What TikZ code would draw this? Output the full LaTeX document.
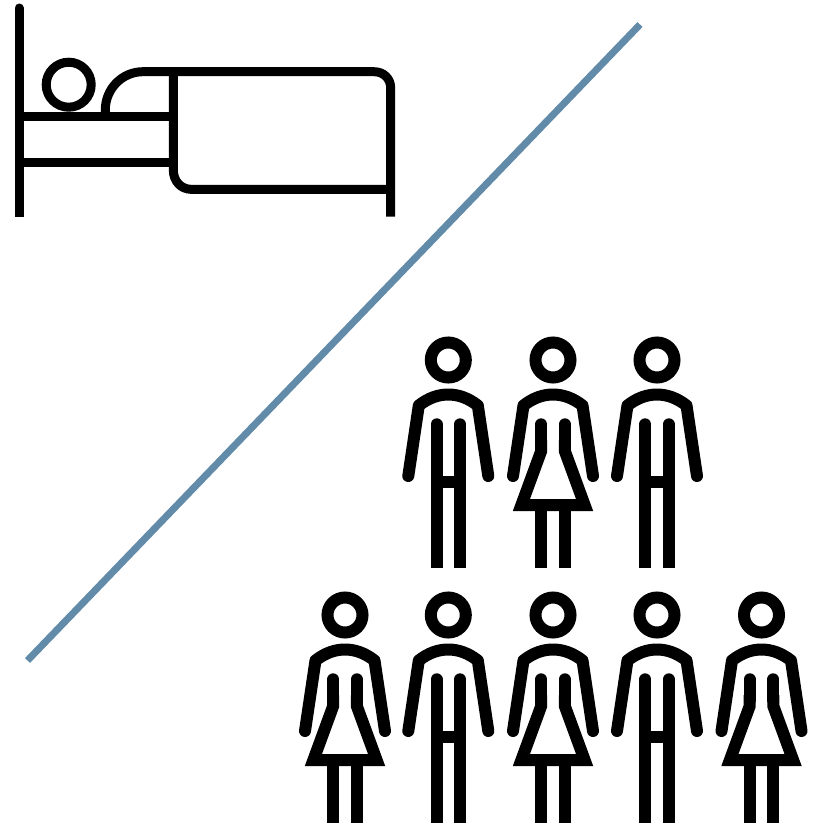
\documentclass[tikz,border=0pt]{standalone}
\usepackage{xcolor}
\definecolor{slashblue}{HTML}{628BAA}
\tikzset{
  icon/.style={draw=black, line width=#1, line cap=butt, line join=miter},
  icon/.default=12pt,
  limb/.style={icon, line cap=round, line join=round},
  % head, arms and shoulders are shared by both figures
  torso/.pic={
    \draw[icon] (0,0) circle (17.5);
    \draw[limb] (-40,116) -- (-29.5,45.5) .. controls (-20,38) and (-10,34.5) .. (0,34.5)
      .. controls (10,34.5) and (20,38) .. (29.5,45.5) -- (40,116);
  },
  man/.pic={
    \pic {torso};
    \draw[limb] (-11.8,64.3) -- (-11.8,150);
    \draw[limb] (11.8,64.3) -- (11.8,150);
    \draw[icon] (-11.8,145) -- (-11.8,208);
    \draw[icon] (11.8,145) -- (11.8,208);
    \draw[icon] (-11.8,121.5) -- (11.8,121.5);
  },
  woman/.pic={
    \pic {torso};
    \draw[limb] (-11.8,64.3) -- (-11.8,85);
    \draw[limb] (11.8,64.3) -- (11.8,85);
    \draw[icon] (-11.8,80) -- (-11.8,91) -- (-31.6,145) -- (31.6,145) -- (11.8,91) -- (11.8,80);
    \draw[icon] (-11.8,145) -- (-11.8,208);
    \draw[icon] (11.8,145) -- (11.8,208);
  },
}
\begin{document}
\begin{tikzpicture}[x=1pt, y=-1pt]
  \useasboundingbox (0,0) rectangle (818,825);

  % Bed with sleeper
  \draw[icon=9pt] (19,216.7) -- (19,20);
  \draw[limb, line width=9pt] (19,20) -- (19,8);
  \draw[icon=9pt] (68.7,84.7) circle (22.5);
  \draw[icon=9pt] (19,116.7) -- (173.3,116.7);
  \draw[icon=9pt] (19,162) -- (173.3,162);
  \draw[icon=9pt] (105.3,116.7) -- (105.3,110) .. controls (105.3,89) and (122,71.7) .. (143,71.7)
    -- (374,71.7) .. controls (384,71.7) and (390.7,79) .. (390.7,88) -- (390.7,216.7);
  \draw[icon=9pt] (173.3,71.7) -- (173.3,170) .. controls (173.3,181) and (181,189.3) .. (191,189.3) -- (390.7,189.3);

  % Separator
  \draw[slashblue, line width=7pt] (27.5,660.5) -- (640,24.5);

  % Top row
  \pic at (448.3,360) {man};
  \pic at (553,360) {woman};
  \pic at (657,360) {man};

  % Bottom row
  \pic at (345,615) {woman};
  \pic at (448.3,615) {man};
  \pic at (553,615) {woman};
  \pic at (657,615) {man};
  \pic at (761.5,615) {woman};
\end{tikzpicture}
\end{document}
